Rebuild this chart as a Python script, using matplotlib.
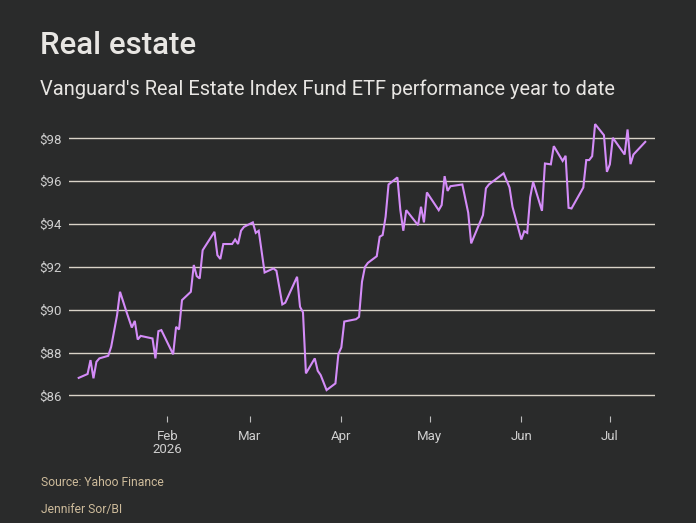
import numpy as np
import pandas as pd
import matplotlib
matplotlib.use("Agg")
import matplotlib.pyplot as plt
import matplotlib.dates as mdates

plt.rcParams['font.family'] = ['Roboto', 'DejaVu Sans']

dates = [
    "2026-01-02", "2026-01-05", "2026-01-06", "2026-01-07", "2026-01-08", "2026-01-09",
    "2026-01-12", "2026-01-13", "2026-01-15", "2026-01-16", "2026-01-18", "2026-01-20",
    "2026-01-21", "2026-01-22", "2026-01-23", "2026-01-27", "2026-01-28", "2026-01-29",
    "2026-01-30", "2026-02-03", "2026-02-04", "2026-02-05", "2026-02-06", "2026-02-09",
    "2026-02-10", "2026-02-11", "2026-02-12", "2026-02-13", "2026-02-17", "2026-02-18",
    "2026-02-19", "2026-02-20", "2026-02-23", "2026-02-24", "2026-02-25", "2026-02-26",
    "2026-02-27", "2026-03-02", "2026-03-03", "2026-03-04", "2026-03-06", "2026-03-09",
    "2026-03-10", "2026-03-12", "2026-03-13", "2026-03-17", "2026-03-18", "2026-03-19",
    "2026-03-20", "2026-03-23", "2026-03-24", "2026-03-25", "2026-03-27", "2026-03-30",
    "2026-03-31", "2026-04-01", "2026-04-02", "2026-04-06", "2026-04-07", "2026-04-08",
    "2026-04-09", "2026-04-10", "2026-04-13", "2026-04-14", "2026-04-15", "2026-04-16",
    "2026-04-17", "2026-04-20", "2026-04-21", "2026-04-22", "2026-04-23", "2026-04-27",
    "2026-04-28", "2026-04-29", "2026-04-30", "2026-05-04", "2026-05-05", "2026-05-06",
    "2026-05-07", "2026-05-08", "2026-05-12", "2026-05-14", "2026-05-15", "2026-05-19",
    "2026-05-20", "2026-05-21", "2026-05-26", "2026-05-28", "2026-05-29", "2026-06-01",
    "2026-06-02", "2026-06-03", "2026-06-04", "2026-06-05", "2026-06-08", "2026-06-09",
    "2026-06-11", "2026-06-12", "2026-06-15", "2026-06-16", "2026-06-17", "2026-06-18",
    "2026-06-22", "2026-06-23", "2026-06-24", "2026-06-25", "2026-06-26", "2026-06-29",
    "2026-06-30", "2026-07-01", "2026-07-02", "2026-07-06", "2026-07-07", "2026-07-08",
    "2026-07-09", "2026-07-13",
]
prices = [
    86.82, 87.00, 87.65, 86.80, 87.57, 87.73,
    87.85, 88.27, 89.75, 90.84, 89.98, 89.17,
    89.48, 88.61, 88.78, 88.66, 87.73, 89.00,
    89.05, 87.92, 89.20, 89.08, 90.45, 90.84,
    92.09, 91.57, 91.46, 92.78, 93.64, 92.55,
    92.37, 93.07, 93.07, 93.28, 93.07, 93.69,
    93.87, 94.08, 93.59, 93.69, 91.74, 91.93,
    91.82, 90.25, 90.33, 91.54, 90.14, 89.88,
    87.03, 87.73, 87.15, 86.95, 86.25, 86.56,
    87.93, 88.24, 89.45, 89.56, 89.67, 91.31,
    92.00, 92.19, 92.50, 93.41, 93.49, 94.34,
    95.85, 96.18, 94.65, 93.69, 94.65, 93.95,
    94.81, 94.08, 95.48, 94.65, 94.89, 96.24,
    95.55, 95.77, 95.85, 94.53, 93.10, 94.42,
    95.67, 95.85, 96.37, 95.71, 94.81, 93.28,
    93.67, 93.59, 95.25, 95.97, 94.62, 96.83,
    96.79, 97.64, 96.95, 97.19, 94.76, 94.73,
    95.71, 96.99, 96.99, 97.17, 98.67, 98.15,
    96.44, 96.79, 98.03, 97.25, 98.42, 96.80,
    97.25, 97.84,
]
y_ticks = [86, 88, 90, 92, 94, 96, 98]
x_ticks = ["2026-02-01", "2026-03-01", "2026-04-01", "2026-05-01", "2026-06-01", "2026-07-01"]
x_labels = ["Feb\n2026", "Mar", "Apr", "May", "Jun", "Jul"]

bg = "#2a2b2b"
fig = plt.figure(figsize=(6.96, 5.23), dpi=100)
fig.patch.set_facecolor(bg)
ax = fig.add_axes([0.0991, 0.2046, 0.842, 0.5696])
ax.set_facecolor(bg)

d = pd.to_datetime(dates)
ax.plot(d, prices, color="#d48cf8", lw=1.5, zorder=3, solid_joinstyle="miter")

for v in y_ticks:
    ax.axhline(v, color="#d9d3c8", lw=1.0, zorder=1)

start = pd.Timestamp("2026-01-01")
ax.set_xlim(start - pd.Timedelta(days=2.3), start + pd.Timedelta(days=196.3))
ax.set_ylim(85.04, 98.95)

ax.set_yticks(y_ticks)
ax.set_yticklabels([f"${v}" for v in y_ticks])
ax.set_xticks(pd.to_datetime(x_ticks))
ax.set_xticklabels(x_labels, linespacing=1.05)

ax.tick_params(axis="y", length=0, pad=5, labelsize=9.5, labelcolor="#cfcfcf")
ax.tick_params(axis="x", length=4, width=0.8, color="#bdbdbd", pad=6,
               labelsize=9.5, labelcolor="#cfcfcf", direction="out")
for s in ax.spines.values():
    s.set_visible(False)

fig.text(40 / 696, 1 - 45 / 523, "Real estate", fontsize=22.5, fontweight="medium",
         color="#e8e6e3", va="center", ha="left")
fig.text(40 / 696, 1 - 89 / 523, "Vanguard's Real Estate Index Fund ETF performance year to date",
         fontsize=14.4, color="#e8e6e3", va="center", ha="left")
fig.text(41 / 696, 1 - 483 / 523, "Source: Yahoo Finance", fontsize=8.7,
         color="#cdbb9b", va="center", ha="left")
fig.text(41 / 696, 1 - 509 / 523, "Jennifer Sor/BI", fontsize=8.7,
         color="#cdbb9b", va="center", ha="left")

fig.savefig("out.png", dpi=100, facecolor=bg)
